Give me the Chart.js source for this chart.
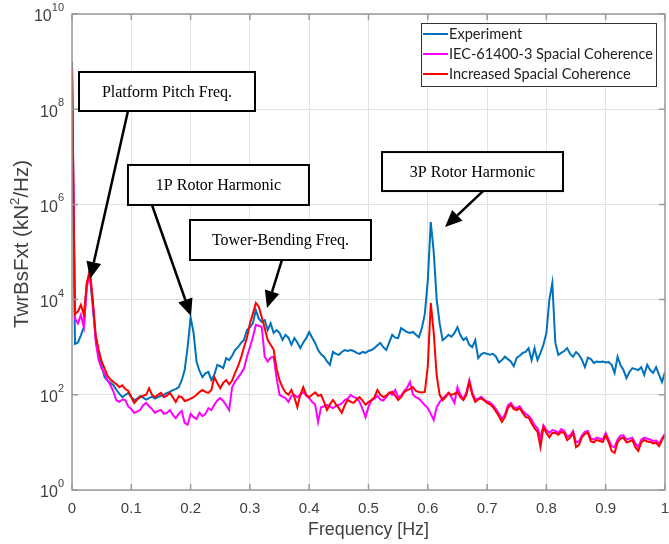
<!DOCTYPE html>
<html>
<head>
<meta charset="utf-8">
<script src="https://cdn.jsdelivr.net/npm/chart.js@4.4.1/dist/chart.umd.min.js"></script>
<style>
  html, body { margin: 0; padding: 0; background: #fff; }
</style>
</head>
<body>
<canvas id="psd" width="669" height="544" style="width:669px;height:544px"></canvas>
<script>
const freqStep = 0.005;

const experimentLog = [
  9.0, 3.07, 3.1, 3.25, 3.42, 4.35, 4.52, 3.85, 3.2, 2.85,
  2.6, 2.37, 2.3, 2.25, 2.2, 2.1, 2.02, 1.95, 2.0, 2.04,
  1.95, 1.89, 1.92, 1.97, 1.94, 1.9, 1.93, 1.96, 1.92, 1.95,
  1.98, 2.0, 2.04, 2.06, 2.1, 2.12, 2.16, 2.3, 2.52, 3.0,
  3.63, 3.3, 2.7, 2.5, 2.37, 2.45, 2.48, 2.31, 2.42, 2.63,
  2.6, 2.56, 2.77, 2.73, 2.82, 2.94, 3.0, 3.09, 3.15, 3.36,
  3.42, 3.5, 3.78, 3.6, 3.53, 3.57, 3.36, 3.5, 3.3, 3.36,
  3.3, 3.15, 3.26, 3.2, 3.05, 3.19, 3.1, 2.98, 3.1, 3.19,
  3.32, 3.2, 3.09, 2.94, 2.85, 2.8, 2.7, 2.63, 2.9, 2.86,
  2.84, 2.9, 2.94, 2.92, 2.94, 2.92, 2.88, 2.86, 2.9, 2.88,
  2.92, 2.94, 2.98, 3.04, 3.09, 3.0, 2.94, 3.1, 3.26, 3.2,
  3.19, 3.4, 3.36, 3.32, 3.3, 3.32, 3.26, 3.21, 3.4, 3.7,
  4.4, 5.63, 5.0, 4.0, 3.5, 3.15, 3.2, 3.26, 3.22, 3.3,
  3.42, 3.25, 3.15, 3.2, 3.05, 3.0, 3.15, 2.77, 2.85, 2.88,
  2.86, 2.84, 2.86, 2.8, 2.68, 2.73, 2.8, 2.75, 2.7, 2.6,
  2.78, 2.82, 2.88, 2.9, 2.98, 2.73, 2.98, 2.73, 2.88, 3.05,
  3.3, 4.0, 4.35, 3.1, 2.84, 2.88, 2.92, 2.98, 2.86, 2.8,
  2.9, 2.84, 2.73, 2.58, 2.78, 2.75, 2.67, 2.7, 2.69, 2.7,
  2.68, 2.69, 2.63, 2.46, 2.8, 2.62, 2.52, 2.35, 2.48, 2.56,
  2.54, 2.52, 2.58, 2.42, 2.63, 2.52, 2.46, 2.58, 2.42, 2.27,
  2.48
];

const iecLog = [
  8.8, 3.6, 3.5, 3.68, 3.42, 4.26, 4.56, 3.95, 3.1, 2.73,
  2.55, 2.45, 2.3, 2.2, 2.06, 1.88, 1.85, 1.9, 1.89, 1.75,
  1.7, 1.62, 1.65, 1.68, 1.78, 1.83, 1.76, 1.7, 1.62, 1.66,
  1.68, 1.6, 1.62, 1.68, 1.58, 1.51, 1.6, 1.66, 1.41, 1.37,
  1.6, 1.53, 1.49, 1.62, 1.55, 1.6, 1.72, 1.68, 1.79, 1.88,
  1.93, 1.87, 1.78, 1.68, 2.16, 2.28, 2.36, 2.45, 2.55, 2.8,
  3.0, 3.21, 3.47, 3.45, 3.42, 2.8, 2.7, 2.78, 2.8, 2.35,
  2.0, 1.96, 1.93, 1.85, 1.98, 2.0, 1.95, 2.0, 2.06, 1.98,
  1.93, 1.85, 1.8, 1.43, 1.74, 1.76, 1.79, 1.75, 1.72, 1.76,
  1.79, 1.82, 1.89, 1.92, 2.0, 1.95, 1.93, 1.85, 1.7, 1.53,
  1.75, 1.88, 1.92, 1.98, 1.9, 1.88, 1.95, 2.05, 2.0, 2.1,
  1.95, 1.98, 2.08, 2.15, 2.27, 2.0, 1.95, 1.92, 1.85, 1.78,
  1.72, 1.6, 1.47, 1.74, 1.85, 1.93, 1.98, 2.04, 1.95, 1.83,
  2.16, 2.0, 1.92, 2.05, 2.31, 2.05, 1.9, 1.92, 1.96, 1.9,
  1.86, 1.84, 1.78, 1.7, 1.6, 1.5, 1.58, 1.78, 1.83, 1.74,
  1.72, 1.76, 1.66, 1.6, 1.56, 1.48, 1.36, 1.3, 1.1, 1.36,
  1.26, 1.2, 1.26, 1.24, 1.2, 1.28, 1.24, 1.12, 1.15, 1.24,
  1.0, 1.02, 1.15, 1.22, 1.24, 1.08, 1.06, 1.1, 1.08, 1.06,
  1.2, 1.06, 0.92, 0.9, 1.06, 1.14, 1.15, 1.06, 1.08, 1.1,
  0.98, 0.9, 1.06, 1.1, 1.08, 1.06, 1.03, 1.04, 0.98, 1.08,
  1.18
];

const increasedLog = [
  8.9, 3.7, 3.75, 3.89, 3.68, 4.35, 4.62, 4.0, 3.25, 2.94,
  2.7, 2.55, 2.4, 2.32, 2.27, 2.22, 2.16, 2.2, 2.12, 2.08,
  1.95, 1.83, 1.9, 1.95, 1.98, 2.0, 2.14, 2.0, 1.95, 2.0,
  2.04, 1.95, 1.98, 2.04, 1.95, 1.85, 1.97, 1.95, 1.87, 1.89,
  1.92, 1.95, 2.0, 2.06, 2.1, 2.06, 2.04, 2.1, 2.37, 2.25,
  2.14, 2.25, 2.31, 2.22, 2.3, 2.46, 2.6, 2.78, 3.0, 3.2,
  3.5, 3.7, 3.93, 3.85, 3.63, 3.4, 3.15, 3.05, 2.95, 2.55,
  2.3, 2.16, 2.05, 2.0, 2.1, 1.95, 1.74, 2.0, 2.16, 2.0,
  1.95, 2.0, 2.05, 1.98, 2.0, 1.85, 1.68, 1.8, 1.89, 1.8,
  1.72, 1.62, 1.78, 1.89, 1.85, 1.83, 1.9, 1.95, 1.88, 1.79,
  1.85, 1.89, 1.95, 2.1, 2.0, 1.95, 1.98, 2.04, 2.06, 1.98,
  1.89, 1.95, 2.05, 2.1, 2.12, 2.16, 2.08, 2.06, 2.05, 2.06,
  2.6, 3.93, 3.3, 2.4, 2.0, 1.89, 1.95, 2.04, 2.0, 2.02,
  2.06, 1.95, 1.89, 2.0, 2.27, 2.0, 1.85, 1.9, 1.93, 1.88,
  1.83, 1.8, 1.74, 1.65, 1.55, 1.43, 1.53, 1.72, 1.79, 1.7,
  1.68, 1.72, 1.62, 1.53, 1.52, 1.4, 1.3, 1.22, 0.9, 1.32,
  1.2, 1.11, 1.2, 1.2, 1.16, 1.22, 1.2, 1.05, 1.1, 1.2,
  0.9, 0.95, 1.11, 1.18, 1.2, 1.02, 1.0, 1.05, 1.03, 1.01,
  1.15, 1.0, 0.82, 0.78, 1.0, 1.08, 1.1, 1.0, 1.02, 1.05,
  0.9, 0.82, 1.0, 1.05, 1.02, 1.01, 0.98, 0.99, 0.92, 1.05,
  1.16
];

const seriesNames = ["Experiment", "IEC-61400-3 Spacial Coherence", "Increased Spacial Coherence"];
const seriesColors = ["#0072BD", "#FF00FF", "#FF0000"];
const xTicks = [0, 0.1, 0.2, 0.3, 0.4, 0.5, 0.6, 0.7, 0.8, 0.9, 1];
const xTickLabels = ["0", "0.1", "0.2", "0.3", "0.4", "0.5", "0.6", "0.7", "0.8", "0.9", "1"];
const yTickExponents = [0, 2, 4, 6, 8, 10];

// callouts: box centre and arrow ends in (Hz, log10 PSD)
const callouts = [
  { text: "Platform Pitch Freq.", box: [0.1602, 8.372], size: [176, 39], from: [0.0944, 7.962], to: [0.0304, 4.433] },
  { text: "1P Rotor Harmonic", box: [0.247, 6.408], size: [181, 40], from: [0.1349, 5.987], to: [0.2007, 3.655] },
  { text: "Tower-Bending Freq.", box: [0.3516, 5.252], size: [181, 40], from: [0.3541, 4.832], to: [0.3288, 3.824] },
  { text: "3P Rotor Harmonic", box: [0.6754, 6.69], size: [181, 39], from: [0.6931, 6.28], to: [0.629, 5.525] }
];

const freq = experimentLog.map((_, i) => +(i * freqStep).toFixed(3));
function toPoints(logs) {
  return logs.map((e, i) => ({ x: freq[i], y: Math.pow(10, e) }));
}

const SANS = "'Liberation Sans', Arial, sans-serif";

function drawArrow(ctx, x1, y1, x2, y2) {
  const ang = Math.atan2(y2 - y1, x2 - x1);
  const hl = 17, hw = 7.5;
  const bx = x2 - hl * Math.cos(ang), by = y2 - hl * Math.sin(ang);
  ctx.beginPath();
  ctx.moveTo(x1, y1);
  ctx.lineTo(bx, by);
  ctx.stroke();
  ctx.beginPath();
  ctx.moveTo(x2, y2);
  ctx.lineTo(bx + hw * Math.sin(ang), by - hw * Math.cos(ang));
  ctx.lineTo(bx - hw * Math.sin(ang), by + hw * Math.cos(ang));
  ctx.closePath();
  ctx.fill();
}

// font size that makes `text` about `width` px wide
function fitSize(ctx, text, width, family) {
  ctx.font = "20px " + family;
  return 20 * width / ctx.measureText(text).width;
}

const decor = {
  id: "decor",
  afterDraw(chart) {
    const { ctx, chartArea: a, scales: { x, y } } = chart;
    ctx.save();

    // axes box with inward ticks
    ctx.strokeStyle = "#9a9a9a";
    ctx.lineWidth = 1.5;
    ctx.strokeRect(a.left, a.top, a.right - a.left, a.bottom - a.top);
    ctx.beginPath();
    xTicks.forEach(v => {
      const px = x.getPixelForValue(v);
      ctx.moveTo(px, a.bottom); ctx.lineTo(px, a.bottom - 6);
      ctx.moveTo(px, a.top); ctx.lineTo(px, a.top + 6);
    });
    yTickExponents.forEach(e => {
      const py = y.getPixelForValue(Math.pow(10, e));
      ctx.moveTo(a.left, py); ctx.lineTo(a.left + 6, py);
      ctx.moveTo(a.right, py); ctx.lineTo(a.right - 6, py);
    });
    ctx.stroke();

    // tick labels
    ctx.fillStyle = "#404040";
    ctx.font = "15px " + SANS;
    ctx.textAlign = "center";
    ctx.textBaseline = "middle";
    xTicks.forEach((v, i) => {
      ctx.fillText(xTickLabels[i], x.getPixelForValue(v), a.bottom + 19);
    });
    ctx.textAlign = "left";
    yTickExponents.forEach(e => {
      const py = y.getPixelForValue(Math.pow(10, e));
      const sup = String(e);
      ctx.font = "11px " + SANS;
      const sw = ctx.measureText(sup).width;
      ctx.font = "16px " + SANS;
      const bw = ctx.measureText("10").width;
      const right = a.left - 8;
      ctx.fillText("10", right - sw - bw, py + 3);
      ctx.font = "11px " + SANS;
      ctx.fillText(sup, right - sw, py - 6);
    });

    // axis titles
    const xs = fitSize(ctx, "Frequency [Hz]", 121, SANS);
    ctx.font = xs.toFixed(2) + "px " + SANS;
    ctx.textAlign = "center";
    ctx.fillText("Frequency [Hz]", (a.left + a.right) / 2, a.bottom + 40);

    ctx.save();
    ctx.translate(22, 244);
    ctx.rotate(-Math.PI / 2);
    const p1 = "TwrBsFxt (kN", p2 = "/Hz)";
    const ys = fitSize(ctx, p1 + p2 + "2", 172, SANS);
    const big = ys.toFixed(2) + "px " + SANS, small = (ys * 0.65).toFixed(2) + "px " + SANS;
    ctx.font = big;
    const w1 = ctx.measureText(p1).width, w3 = ctx.measureText(p2).width;
    ctx.font = small;
    const w2 = ctx.measureText("2").width;
    const sx = -(w1 + w2 + w3) / 2;
    ctx.textAlign = "left";
    ctx.font = big;
    ctx.fillText(p1, sx, 0);
    ctx.font = small;
    ctx.fillText("2", sx + w1, -ys * 0.35);
    ctx.font = big;
    ctx.fillText(p2, sx + w1 + w2, 0);
    ctx.restore();

    // legend
    const lw = 235, lh = 63;
    const lx = a.right - 9 - lw, ly = a.top + 9;
    ctx.fillStyle = "#fff";
    ctx.fillRect(lx, ly, lw, lh);
    ctx.strokeStyle = "#333";
    ctx.lineWidth = 1;
    ctx.strokeRect(lx + 0.5, ly + 0.5, lw, lh);
    const fs = fitSize(ctx, seriesNames[1], 204, "Lato, sans-serif");
    ctx.font = fs.toFixed(2) + "px Lato, sans-serif";
    ctx.textAlign = "left";
    ctx.textBaseline = "middle";
    seriesNames.forEach((name, i) => {
      const ry = ly + 11 + i * 20;
      ctx.strokeStyle = seriesColors[i];
      ctx.lineWidth = 2;
      ctx.beginPath();
      ctx.moveTo(lx + 2, ry); ctx.lineTo(lx + 27, ry);
      ctx.stroke();
      ctx.fillStyle = "#222";
      ctx.fillText(name, lx + 28, ry);
    });

    // callouts
    ctx.strokeStyle = "#000";
    callouts.forEach(c => {
      const fx = x.getPixelForValue(c.from[0]), fy = y.getPixelForValue(Math.pow(10, c.from[1]));
      const tx = x.getPixelForValue(c.to[0]), ty = y.getPixelForValue(Math.pow(10, c.to[1]));
      ctx.fillStyle = "#000";
      ctx.lineWidth = 2.5;
      drawArrow(ctx, fx, fy, tx, ty);
      const cx = x.getPixelForValue(c.box[0]), cy = y.getPixelForValue(Math.pow(10, c.box[1]));
      const [bw, bh] = c.size;
      ctx.fillStyle = "#fff";
      ctx.fillRect(cx - bw / 2, cy - bh / 2, bw, bh);
      ctx.lineWidth = 2;
      ctx.strokeRect(cx - bw / 2, cy - bh / 2, bw, bh);
      ctx.fillStyle = "#000";
      ctx.font = "16px 'Liberation Serif', 'Times New Roman', serif";
      ctx.textAlign = "center";
      ctx.textBaseline = "middle";
      ctx.fillText(c.text, cx, cy + 1);
    });

    ctx.restore();
  }
};

new Chart(document.getElementById("psd"), {
  type: "line",
  data: {
    datasets: [
      { label: seriesNames[0], data: toPoints(experimentLog), borderColor: seriesColors[0], order: 2 },
      { label: seriesNames[1], data: toPoints(iecLog), borderColor: seriesColors[1], order: 1 },
      { label: seriesNames[2], data: toPoints(increasedLog), borderColor: seriesColors[2], order: 0 }
    ]
  },
  options: {
    responsive: false,
    animation: false,
    devicePixelRatio: 1,
    layout: { padding: { left: 0, right: 4, top: 14, bottom: 0 } },
    elements: {
      point: { radius: 0 },
      line: { borderWidth: 2, tension: 0, fill: false }
    },
    plugins: {
      legend: { display: false },
      tooltip: { enabled: false }
    },
    scales: {
      x: {
        type: "linear",
        min: 0,
        max: 1,
        afterBuildTicks: s => { s.ticks = xTicks.map(v => ({ value: v })); },
        afterFit: s => { s.height = 54; },
        ticks: { display: false },
        grid: { color: "#e2e2e2", drawTicks: false },
        border: { display: false }
      },
      y: {
        type: "logarithmic",
        min: 1,
        max: 1e10,
        afterBuildTicks: s => { s.ticks = yTickExponents.map(e => ({ value: Math.pow(10, e) })); },
        afterFit: s => { s.width = 72; },
        ticks: { display: false },
        grid: { color: "#e2e2e2", drawTicks: false },
        border: { display: false }
      }
    }
  },
  plugins: [decor]
});
</script>
</body>
</html>
